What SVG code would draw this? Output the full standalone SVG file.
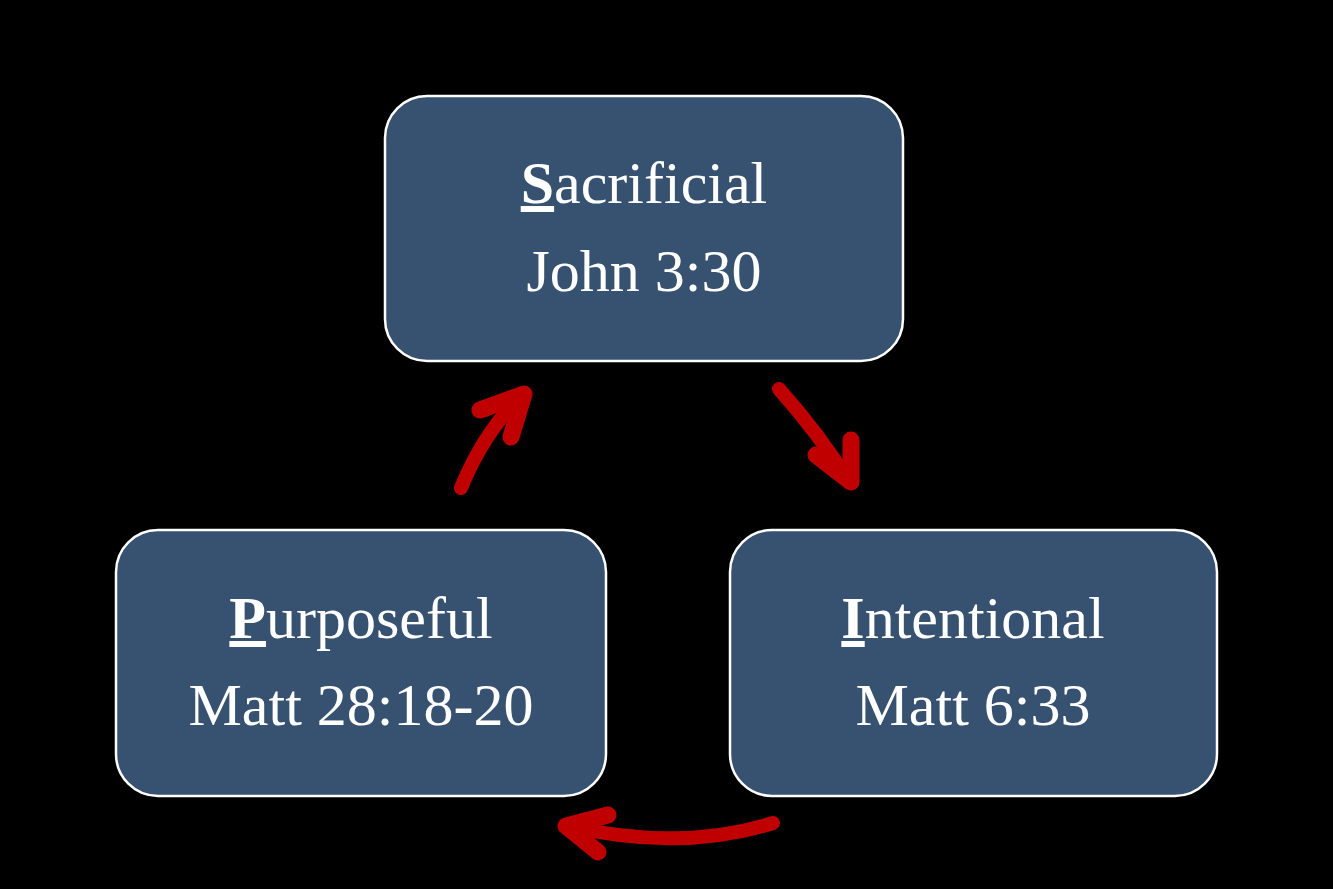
<svg xmlns="http://www.w3.org/2000/svg" width="1333" height="889" viewBox="0 0 1333 889">
<style>
.box{fill:#375170;stroke:#ffffff;stroke-width:2.5}
.t{font-family:"Liberation Serif",serif;font-size:60px;fill:#ffffff;text-anchor:middle}
.b{font-weight:bold;text-decoration:underline}
.arr{fill:none;stroke:#c00000;stroke-width:14;stroke-linecap:round;stroke-linejoin:round}
.hd{fill:none;stroke:#c00000;stroke-width:17;stroke-linecap:round;stroke-linejoin:round}
</style>
<rect width="1333" height="889" fill="#000000"/>
<g id="node-s">
<rect class="box" x="385" y="96" width="518" height="265" rx="42"/>
<text class="t" x="644" y="203"><tspan class="b">S</tspan>acrificial</text>
<text class="t" x="644" y="291">John 3:30</text>
</g>
<g id="node-i">
<rect class="box" x="730" y="530" width="487" height="266" rx="42"/>
<text class="t" x="973" y="638"><tspan class="b">I</tspan>ntentional</text>
<text class="t" x="973" y="725">Matt 6:33</text>
</g>
<g id="node-p">
<rect class="box" x="116" y="530" width="490" height="266" rx="42"/>
<text class="t" x="361" y="638"><tspan class="b">P</tspan>urposeful</text>
<text class="t" x="361" y="725">Matt 28:18-20</text>
</g>
<g id="connectors">
<path class="arr" d="M461 488 Q485 430 522 396"/>
<polyline class="hd" points="480,410 524,394 511,437"/>
<path class="arr" d="M779 389 Q820 435 849 482"/>
<polyline class="hd" points="816,455 851,482 851,440"/>
<path class="arr" d="M773 823 Q680 852 568 826"/>
<polyline class="hd" points="608,815 566,826 598,852"/>
</g>
</svg>
